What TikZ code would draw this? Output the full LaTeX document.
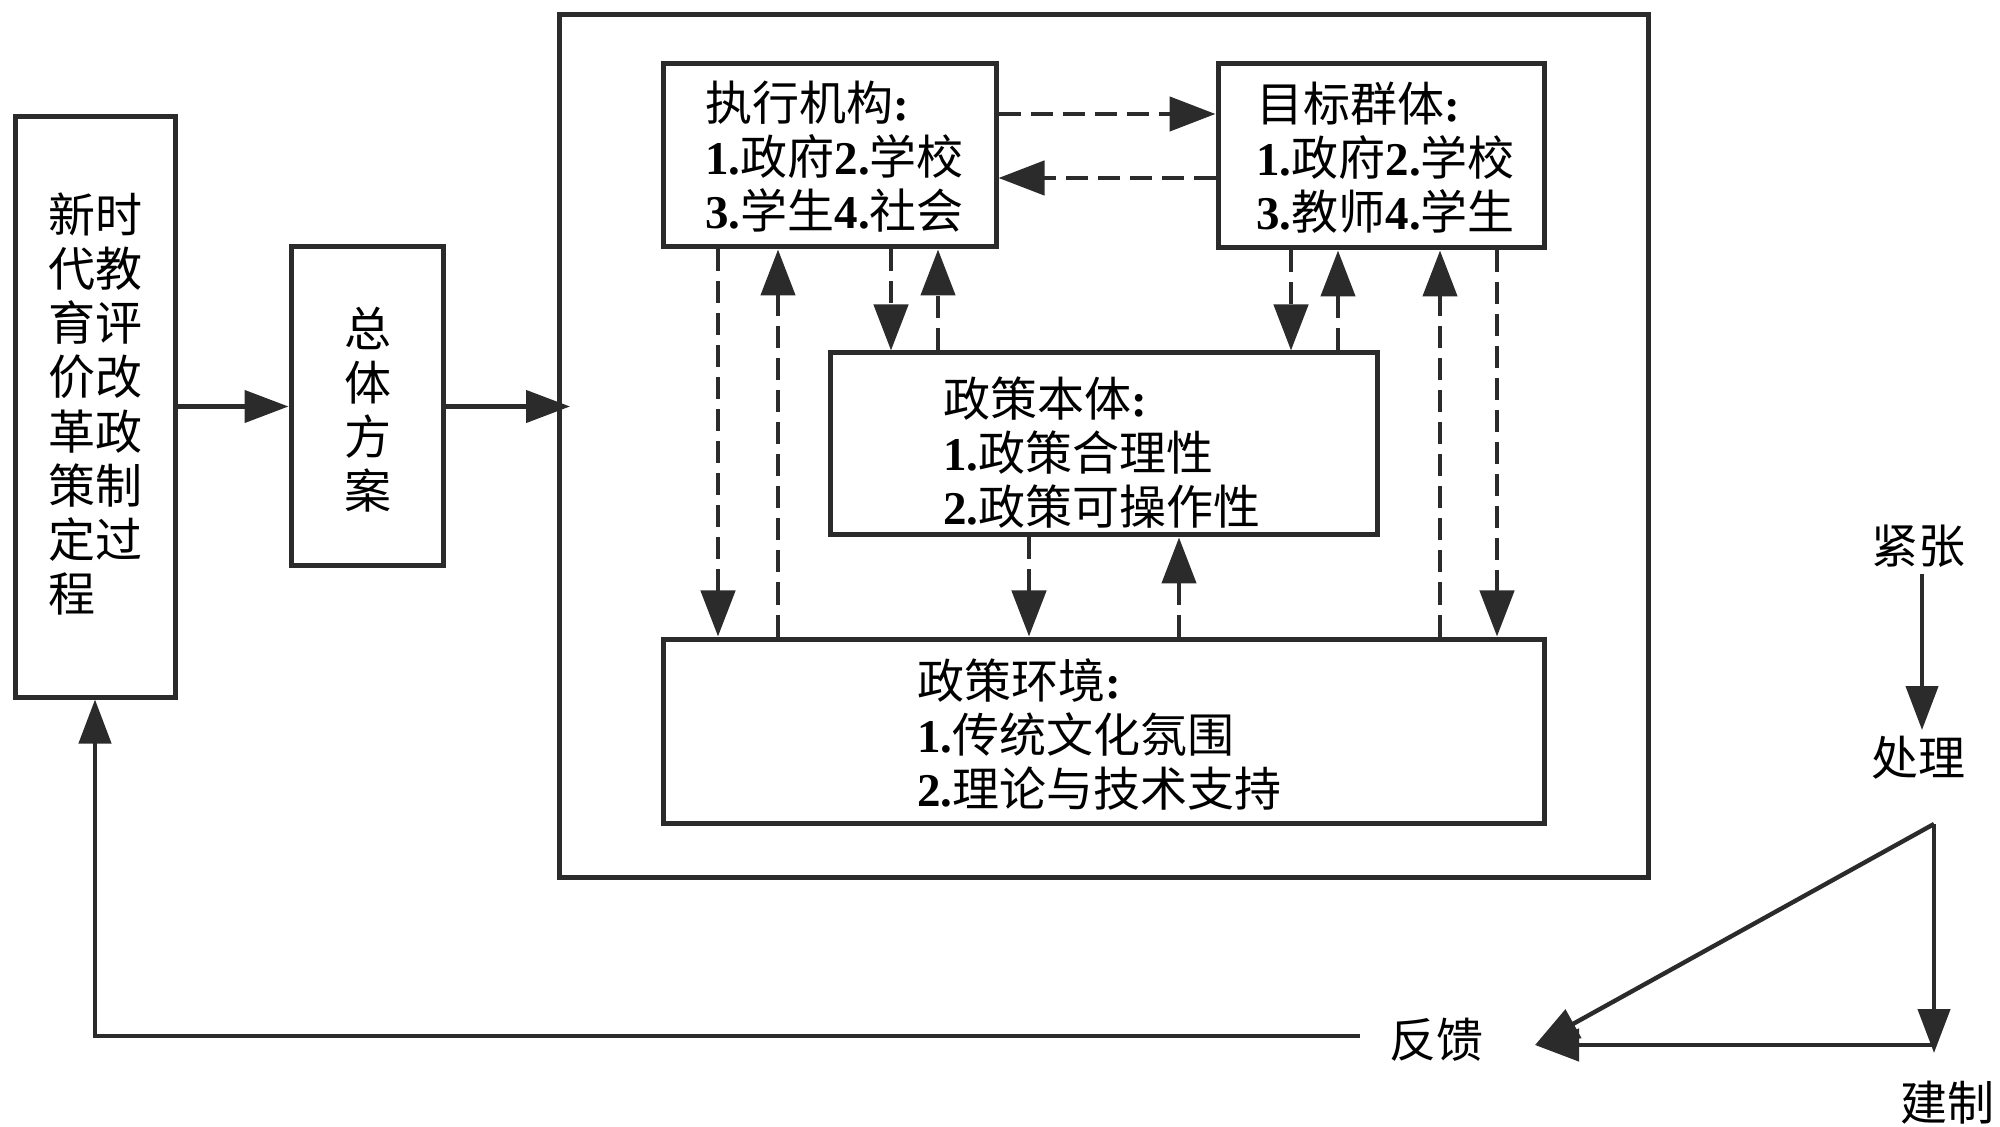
\documentclass[tikz,border=0pt]{standalone}
\usepackage{fontspec}
\setmainfont{Noto Sans CJK SC}
\newfontfamily\serifb{Liberation Serif}
\newcommand\nb[1]{{\serifb\bfseries #1}}
\usetikzlibrary{arrows.meta,fit}
\definecolor{ln}{HTML}{2B2B2B}
\tikzset{
  box/.style={draw=ln, line width=2.5pt, inner sep=0pt},
  txt/.style={font=\fontsize{23.5pt}{27pt}\selectfont, text=black, inner sep=0pt, align=left, anchor=west},
  lbl/.style={font=\fontsize{23.5pt}{27pt}\selectfont, text=black, inner sep=3pt, anchor=center},
  darr/.style={draw=ln, line width=2.3pt, dash pattern=on 11pt off 5pt, -{Triangle[length=23pt,width=17pt]}},
  sarr/.style={draw=ln, line width=2.2pt, -{Triangle[length=22pt,width=16pt]}}
}
\begin{document}
\begin{tikzpicture}[x=0.5pt,y=-0.5pt]
\useasboundingbox (0,0) rectangle (2000,1127);
% boxes
\node[box, fit={(15,117)(175,697)}] (L) {};
\node[box, fit={(291,247)(443,566)}] (P) {};
\node[box, fit={(559,15)(1648,877)}] (F) {};
\node[box, fit={(663,64)(996,247)}] (E) {};
\node[box, fit={(1218,64)(1544,248)}] (T) {};
\node[box, fit={(830,353)(1377,535)}] (B) {};
\node[box, fit={(663,639)(1544,823)}] (V) {};
% texts
\node[txt, anchor=center] (Lt) at (95,404) {新时\\代教\\育评\\价改\\革政\\策制\\定过\\程};
\node[txt, anchor=center] (Pt) at (368,410) {总\\体\\方\\案};
\node[txt] (Et) at (705,157) {执行机构\nb{:}\\\nb{1.}政府\nb{2.}学校\\\nb{3.}学生\nb{4.}社会};
\node[txt] (Tt) at (1256,158) {目标群体\nb{:}\\\nb{1.}政府\nb{2.}学校\\\nb{3.}教师\nb{4.}学生};
\node[txt] (Bt) at (943,453) {政策本体\nb{:}\\\nb{1.}政策合理性\\\nb{2.}政策可操作性};
\node[txt] (Vt) at (917,735) {政策环境\nb{:}\\\nb{1.}传统文化氛围\\\nb{2.}理论与技术支持};
\node[lbl] (JZ) at (1918,546) {紧张};
\node[lbl] (CL) at (1918,758) {处理};
\node[lbl] (FB) at (1436,1040) {反馈};
\node[lbl] (JG) at (1947,1103) {建制};
% helper coordinates
\coordinate (Fin) at (570,406.5);
\coordinate (x1) at (718,0);
\coordinate (x2) at (778,0);
\coordinate (x3) at (891,0);
\coordinate (x4) at (938,0);
\coordinate (x5) at (1029,0);
\coordinate (x6) at (1179,0);
\coordinate (x7) at (1291,0);
\coordinate (x8) at (1338,0);
\coordinate (x9) at (1440,0);
\coordinate (x10) at (1497,0);
\coordinate (y1) at (0,114);
\coordinate (y2) at (0,178);
\coordinate (fb0) at (1360,1036);
\coordinate (ax) at (1922,0);
\coordinate (apex) at (1934,824);
\coordinate (vtip) at (1934,1053);
\coordinate (corner) at (1934,1045);
\coordinate (fbtip) at (1535,1045);
% solid connectors
\draw[sarr] (L.east |- P.west) -- (P.west);
\draw[sarr] (P.east) -- (Fin);
\draw[sarr] (fb0) -- (fb0 -| L.south) -- (L.south);
\draw[sarr] (JZ.south -| ax) -- (CL.north -| ax);
\draw[sarr] (apex) -- (vtip);
\draw[sarr] (corner) -- (fbtip);
\draw[sarr] (apex) -- (fbtip);
% dashed connectors
\draw[darr] (E.south -| x1) -- (V.north -| x1);
\draw[darr] (V.north -| x2) -- (E.south -| x2);
\draw[darr] (E.south -| x3) -- (B.north -| x3);
\draw[darr] (B.north -| x4) -- (E.south -| x4);
\draw[darr] (B.south -| x5) -- (V.north -| x5);
\draw[darr] (V.north -| x6) -- (B.south -| x6);
\draw[darr] (T.south -| x7) -- (B.north -| x7);
\draw[darr] (B.north -| x8) -- (T.south -| x8);
\draw[darr] (V.north -| x9) -- (T.south -| x9);
\draw[darr] (T.south -| x10) -- (V.north -| x10);
\draw[darr] (E.east |- y1) -- (T.west |- y1);
\draw[darr] (T.west |- y2) -- (E.east |- y2);
\end{tikzpicture}
\end{document}
